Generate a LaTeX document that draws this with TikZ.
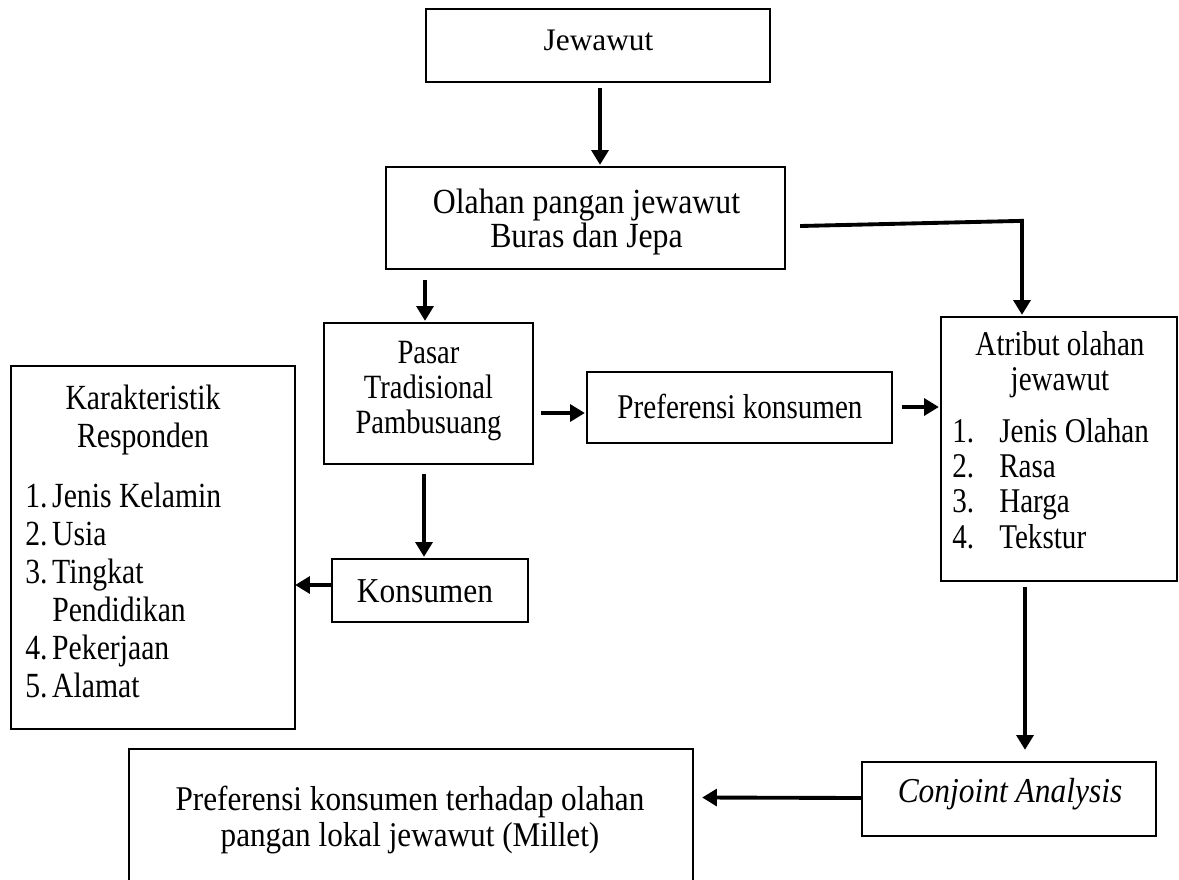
\documentclass[tikz,border=0pt]{standalone}
\usepackage{fontspec}
\setmainfont{Liberation Serif}
\newfontfamily\fC[FakeStretch=0.9]{Liberation Serif}
\newfontfamily\fD[FakeStretch=0.84]{Liberation Serif}
\newfontfamily\fN{Liberation Serif}
\usetikzlibrary{arrows.meta,fit,calc}
\begin{document}
\begin{tikzpicture}[x=0.75pt,y=-0.75pt,
  box/.style={draw,line width=1.7pt,inner sep=0pt},
  arr/.style={line width=2.9pt,line join=miter,-{Triangle[length=11pt,width=12.5pt]}},
  tx/.style={inner sep=0pt,anchor=base},
  lx/.style={inner sep=0pt,anchor=base west}]
\useasboundingbox (0,0) rectangle (1179,879);
% boxes
\node[box,fit={(426,9)(770,82)}] (jew) {};
\node[box,fit={(386,167)(785,269)}] (ola) {};
\node[box,fit={(324,323)(533,464)}] (pas) {};
\node[box,fit={(587,372)(892,443)}] (pref) {};
\node[box,fit={(332,559)(528,622)}] (kon) {};
\node[box,fit={(11,366)(295,729)}] (kar) {};
\node[box,fit={(941,317)(1177,581)}] (atr) {};
\node[box,fit={(862,762)(1156,836)}] (con) {};
\node[box,fit={(129,749)(693,900)}] (bot) {};
% texts
\node[tx,font=\fN\fontsize{23.5}{27}\selectfont] (tjew) at (598.5,50) {Jewawut};
\begin{scope}[font=\fC\fontsize{26.5}{30}\selectfont]
\node[tx] (tola1) at (586.5,213) {Olahan pangan jewawut};
\node[tx] (tola2) at (586.5,247) {Buras dan Jepa};
\end{scope}
\begin{scope}[font=\fD\fontsize{25.5}{28}\selectfont]
\node[tx] (tpas1) at (428.5,363) {Pasar};
\node[tx] (tpas2) at (428.5,398) {Tradisional};
\node[tx] (tpas3) at (428.5,433) {Pambusuang};
\end{scope}
\node[tx,font=\fD\fontsize{26}{28}\selectfont] (tpref) at (740,418) {Preferensi konsumen};
\node[tx,font=\fC\fontsize{26.2}{30}\selectfont] (tkon) at (425,602) {Konsumen};
\begin{scope}[font=\fD\fontsize{26.5}{29}\selectfont]
\node[tx] (tkar1) at (143,409) {Karakteristik};
\node[tx] (tkar2) at (143,447) {Responden};
\node[lx] (tkar3) at (25,507) {\makebox[20.25pt][l]{1.}Jenis Kelamin};
\node[lx] (tkar4) at (25,545) {\makebox[20.25pt][l]{2.}Usia};
\node[lx] (tkar5) at (25,583) {\makebox[20.25pt][l]{3.}Tingkat};
\node[lx] (tkar6) at (25,621) {\makebox[20.25pt][l]{}Pendidikan};
\node[lx] (tkar7) at (25,659) {\makebox[20.25pt][l]{4.}Pekerjaan};
\node[lx] (tkar8) at (25,697) {\makebox[20.25pt][l]{5.}Alamat};
\end{scope}
\begin{scope}[font=\fD\fontsize{26}{28}\selectfont]
\node[tx] (tatr1) at (1060,355) {Atribut olahan};
\node[tx] (tatr2) at (1060,390) {jewawut};
\node[lx] (tatr3) at (952,442) {\makebox[35.25pt][l]{1.}Jenis Olahan};
\node[lx] (tatr4) at (952,477) {\makebox[35.25pt][l]{2.}Rasa};
\node[lx] (tatr5) at (952,512) {\makebox[35.25pt][l]{3.}Harga};
\node[lx] (tatr6) at (952,548) {\makebox[35.25pt][l]{4.}Tekstur};
\end{scope}
\node[tx,font=\fC\itshape\fontsize{26.2}{30}\selectfont] (tcon) at (1010,802) {Conjoint Analysis};
\begin{scope}[font=\fC\fontsize{26}{30}\selectfont]
\node[tx] (tbot1) at (410,810) {Preferensi konsumen terhadap olahan};
\node[tx] (tbot2) at (410,846) {pangan lokal jewawut (Millet)};
\end{scope}
% connectors
\draw[arr] ([shift={(2,5)}]jew.south) -- ([shift={(14.5,-1)}]ola.north);
\draw[arr] ([shift={(-160.5,10)}]ola.south) -- ([shift={(-3.5,-1)}]pas.north);
\draw[arr] ([shift={(-4.5,9)}]pas.south) -- ([shift={(-6,-1)}]kon.north);
\draw[arr] ([shift={(0,-5.5)}]kon.west) -- ([shift={(-1,37.5)}]kar.east);
\draw[arr] ([shift={(7,19.5)}]pas.east) -- ([shift={(-1,5.5)}]pref.west);
\draw[arr] ([shift={(9,-0.5)}]pref.east) -- ([shift={(-1,-42)}]atr.west);
\draw[arr] ([shift={(14,8)}]ola.east) -- ([shift={(-37,-95)}]atr.north) -- ([shift={(-37,-1)}]atr.north);
\draw[arr] ([shift={(-34,5)}]atr.south) -- ([shift={(16,-11)}]con.north);
\draw[arr] ([shift={(0,-1)}]con.west) -- ([shift={(8,-27)}]bot.east);
\end{tikzpicture}
\end{document}
